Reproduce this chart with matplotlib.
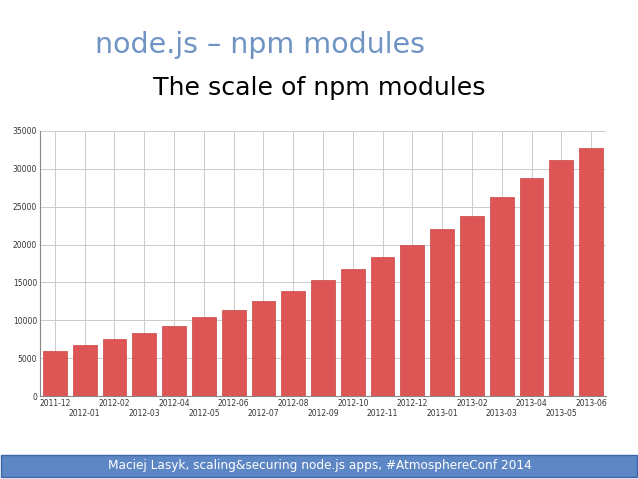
import matplotlib
matplotlib.use("Agg")
import matplotlib.pyplot as plt
from matplotlib.patches import Rectangle

months = ["2011-12","2012-01","2012-02","2012-03","2012-04","2012-05","2012-06","2012-07",
          "2012-08","2012-09","2012-10","2012-11","2012-12","2013-01","2013-02","2013-03",
          "2013-04","2013-05","2013-06"]
modules = [5900, 6700, 7500, 8300, 9300, 10400, 11400, 12600, 13900, 15300, 16800, 18400,
           19900, 22000, 23800, 26300, 28800, 31200, 32700]
yticks = [0, 5000, 10000, 15000, 20000, 25000, 30000, 35000]

fig = plt.figure(figsize=(6.38, 4.79), dpi=100)
fig.text(95/638, 1-45/479, "node.js – npm modules", color="#6f94c4", fontsize=20.5, va="center", ha="left")
fig.text(319/638, 1-88/479, "The scale of npm modules", color="black", fontsize=18.2, va="center", ha="center")

ax = fig.add_axes([40/638, 83/479, 566/638, 265/479])
x = list(range(len(months)))
ax.bar(x, modules, width=0.8, color="#dd5555", edgecolor="#c94444", linewidth=0.5, zorder=2)
ax.set_xlim(-0.5, len(months) - 0.5)
ax.set_ylim(0, 35000)
ax.set_yticks(yticks)
ax.set_yticklabels([str(v) for v in yticks], fontsize=5.5, color="#333333")
ax.set_xticks(x)
ax.set_xticklabels([m if i % 2 == 0 else "\n" + m for i, m in enumerate(months)], fontsize=5.5, color="#333333")
ax.tick_params(length=0, pad=2)
ax.grid(True, color="#cccccc", linewidth=0.7, zorder=0)
for s in ["top", "right"]:
    ax.spines[s].set_visible(False)
for s in ["left", "bottom"]:
    ax.spines[s].set_color("#888888")

fig.patches.append(Rectangle((1/638, 2/479), 636/638, 22/479, transform=fig.transFigure,
                             facecolor="#5d86c4", edgecolor="#3f66a8", linewidth=1))
fig.text(320/638, 13/479, "Maciej Lasyk, scaling&securing node.js apps, #AtmosphereConf 2014",
         color="white", fontsize=8.7, ha="center", va="center")
fig.savefig("out.png", dpi=100)
